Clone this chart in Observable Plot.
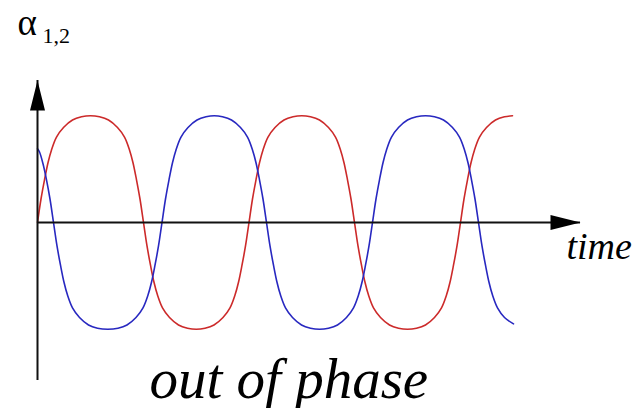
<!DOCTYPE html>
<html>
<head>
<meta charset="utf-8">
<script src="https://cdn.jsdelivr.net/npm/d3@7"></script>
<script src="https://cdn.jsdelivr.net/npm/@observablehq/plot@0.6"></script>
<style>
  html, body { margin: 0; padding: 0; background: #fff; }
</style>
</head>
<body>
<div id="chart"></div>
<script>
// Axis extents (time units, alpha units)
const timeExtent = [0, 54.3];
const alphaExtent = [-1.48, 1.33];

// Red curve (alpha_1)
const timeRed = [
  0, 0.35, 0.7, 1.05, 1.4, 1.9, 2.6, 3.5, 4.4, 5.3, 6.2, 7.1, 8.0, 8.7, 9.2, 9.55, 9.9, 10.25,
  10.6, 10.95, 11.3, 11.65, 12.0, 12.5, 13.2, 14.1, 15.0, 15.88, 16.75, 17.65, 18.55, 19.25, 19.75, 20.1, 20.45, 20.8,
  21.15, 21.5, 21.85, 22.2, 22.55, 23.05, 23.75, 24.65, 25.55, 26.43, 27.3, 28.2, 29.1, 29.8, 30.3, 30.65, 31.0, 31.35,
  31.7, 32.05, 32.4, 32.75, 33.1, 33.6, 34.3, 35.2, 36.1, 37.0, 37.9, 38.8, 39.7, 40.4, 40.9, 41.25, 41.6, 41.95,
  42.3, 42.65, 43.0, 43.35, 43.7, 44.2, 44.9, 45.8, 46.7, 47.5
];
const alphaRed = [
  0, 0.22, 0.40, 0.56, 0.68, 0.80, 0.89, 0.96, 0.99, 1.0, 0.99, 0.96, 0.89, 0.80, 0.68, 0.56, 0.40, 0.22,
  0, -0.22, -0.40, -0.56, -0.68, -0.80, -0.89, -0.96, -0.99, -1.0, -0.99, -0.96, -0.89, -0.80, -0.68, -0.56, -0.40, -0.22,
  0, 0.22, 0.40, 0.56, 0.68, 0.80, 0.89, 0.96, 0.99, 1.0, 0.99, 0.96, 0.89, 0.80, 0.68, 0.56, 0.40, 0.22,
  0, -0.22, -0.40, -0.56, -0.68, -0.80, -0.89, -0.96, -0.99, -1.0, -0.99, -0.96, -0.89, -0.80, -0.68, -0.56, -0.40, -0.22,
  0, 0.22, 0.40, 0.56, 0.68, 0.80, 0.89, 0.96, 0.99, 1.0
];

// Blue curve (alpha_2)
const timeBlue = [
  0, 0.2, 0.55, 0.9, 1.25,
  1.6, 1.95, 2.3, 2.65, 3.0, 3.5, 4.2, 5.1, 6.0, 7.03, 8.05, 8.95, 9.85, 10.55, 11.05, 11.4, 11.75, 12.1,
  12.45, 12.8, 13.15, 13.5, 13.85, 14.35, 15.05, 15.95, 16.85, 17.68, 18.5, 19.4, 20.3, 21.0, 21.5, 21.85, 22.2, 22.55,
  22.9, 23.25, 23.6, 23.95, 24.3, 24.8, 25.5, 26.4, 27.3, 28.2, 29.1, 30.0, 30.9, 31.6, 32.1, 32.45, 32.8, 33.15,
  33.5, 33.85, 34.2, 34.55, 34.9, 35.4, 36.1, 37.0, 37.9, 38.8, 39.7, 40.6, 41.5, 42.2, 42.7, 43.05, 43.4, 43.75,
  44.1, 44.45, 44.8, 45.15, 45.5, 46.0, 46.7, 47.6
];
const alphaBlue = [
  0.69, 0.66, 0.55, 0.40, 0.22,
  0, -0.22, -0.40, -0.56, -0.68, -0.80, -0.89, -0.96, -0.99, -1.0, -0.99, -0.96, -0.89, -0.80, -0.68, -0.56, -0.40, -0.22,
  0, 0.22, 0.40, 0.56, 0.68, 0.80, 0.89, 0.96, 0.99, 1.0, 0.99, 0.96, 0.89, 0.80, 0.68, 0.56, 0.40, 0.22,
  0, -0.22, -0.40, -0.56, -0.68, -0.80, -0.89, -0.96, -0.99, -1.0, -0.99, -0.96, -0.89, -0.80, -0.68, -0.56, -0.40, -0.22,
  0, 0.22, 0.40, 0.56, 0.68, 0.80, 0.89, 0.96, 0.99, 1.0, 0.99, 0.96, 0.89, 0.80, 0.68, 0.56, 0.40, 0.22,
  0, -0.22, -0.40, -0.56, -0.68, -0.80, -0.89, -0.95
];

// Text labels
const yLabel = "α";
const yLabelSub = "1,2";
const xLabel = "time";
const caption = "out of phase";

const red = timeRed.map((t, i) => ({t, a: alphaRed[i]}));
const blue = timeBlue.map((t, i) => ({t, a: alphaBlue[i]}));

// Filled, elongated arrowhead symbol with its tip at the anchor point, pointing up
const arrowHead = {
  draw(context) {
    context.moveTo(0, 0);
    context.lineTo(-7.5, 30);
    context.lineTo(7.5, 30);
    context.closePath();
  }
};

const serif = "Liberation Serif";

const chart = Plot.plot({
  width: 639,
  height: 408,
  marginLeft: 37,
  marginRight: 59,
  marginTop: 80,
  marginBottom: 28,
  x: {domain: timeExtent, axis: null},
  y: {domain: alphaExtent, axis: null},
  marks: [
    // curves
    Plot.line(red, {x: "t", y: "a", stroke: "#cc2a2a", strokeWidth: 1.6, curve: "catmull-rom"}),
    Plot.line(blue, {x: "t", y: "a", stroke: "#2828c0", strokeWidth: 1.6, curve: "catmull-rom"}),
    // axes
    Plot.ruleY([0], {stroke: "#111", strokeWidth: 2}),
    Plot.ruleX([0], {stroke: "#111", strokeWidth: 2}),
    Plot.dot([{t: timeExtent[1], a: 0}], {x: "t", y: "a", symbol: arrowHead, fill: "#000", stroke: "none", r: 10, rotate: 90}),
    Plot.dot([{t: 0, a: alphaExtent[1]}], {x: "t", y: "a", symbol: arrowHead, fill: "#000", stroke: "none", r: 10, rotate: 0}),
    // labels
    Plot.text([yLabel], {frameAnchor: "top-left", text: d => d, textAnchor: "start", lineAnchor: "bottom", dx: -20, dy: -46, fontSize: 37, fontFamily: serif, fill: "#000"}),
    Plot.text([yLabelSub], {frameAnchor: "top-left", text: d => d, textAnchor: "start", lineAnchor: "bottom", dx: 5, dy: -38, fontSize: 22, fontFamily: serif, fill: "#000"}),
    Plot.text([xLabel], {x: () => timeExtent[1], y: () => 0, text: d => d, textAnchor: "start", lineAnchor: "bottom", dx: -14, dy: 37, fontSize: 38, fontStyle: "italic", fontFamily: serif, fill: "#000"}),
    Plot.text([caption], {frameAnchor: "bottom-left", text: d => d, textAnchor: "start", lineAnchor: "bottom", dx: 112, dy: 17, fontSize: 57, fontStyle: "italic", fontFamily: serif, fill: "#000"})
  ]
});
document.getElementById("chart").appendChild(chart);
</script>
</body>
</html>
